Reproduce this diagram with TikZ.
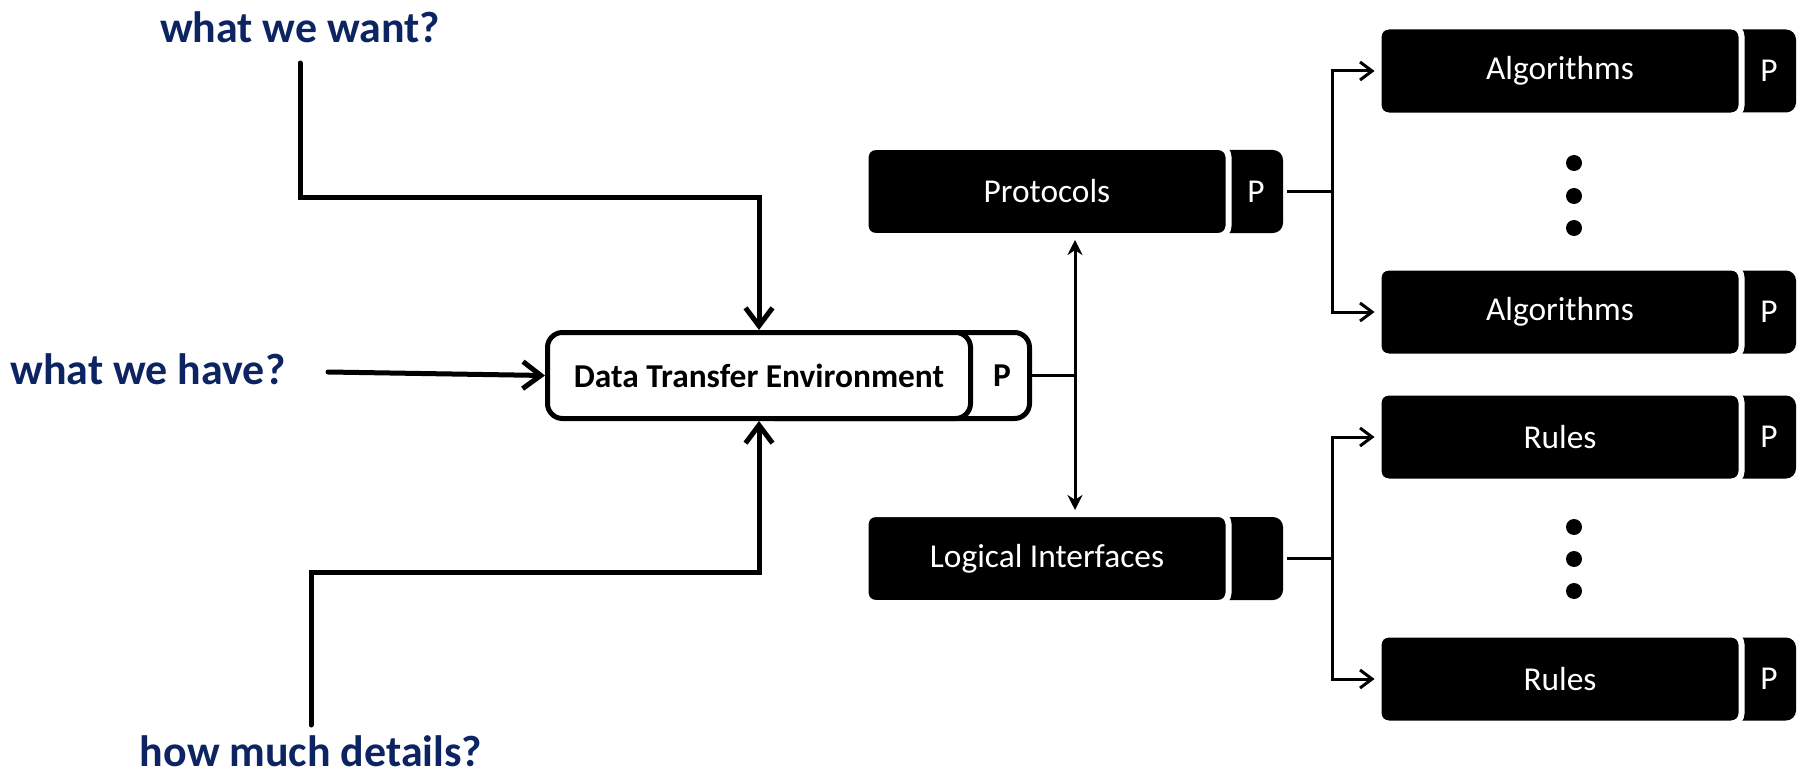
\documentclass[tikz,border=0pt]{standalone}
\usepackage{fontspec}
\setmainfont{Carlito}
\usetikzlibrary{arrows.meta, backgrounds}
\definecolor{qblue}{RGB}{12,36,97}
\tikzset{
  question/.style={
    text=qblue,
    font=\fontsize{25}{29}\selectfont\bfseries,
    inner sep=0pt,
  },
  env box/.style={
    rounded corners=3mm,
    draw,
    fill=white,
    line width=1mm,
    font=\fontsize{19}{22}\selectfont\bfseries,
  },
  dark box/.style={
    rounded corners=2mm,
    draw=white,
    fill=black,
    line width=1.2mm,
    text=white,
    font=\fontsize{19}{22}\selectfont,
    minimum width=72.6mm,
    minimum height=17.8mm,
  },
  tab/.style={
    text=white,
    font=\fontsize{19}{22}\selectfont,
    minimum width=10.8mm,
    minimum height=16.6mm,
    inner sep=0pt,
    outer sep=0pt,
  },
  dot/.style={circle, fill=black, inner sep=0pt, minimum size=3.2mm},
  feed/.style={line width=1mm, line cap=round, -{Straight Barb[length=3.6mm, width=5.4mm]}},
  link/.style={line width=0.6mm},
}

\begin{document}
\begin{tikzpicture}[x=0.2mm, y=-0.2mm]
        \useasboundingbox (0,0) rectangle (1803,779);

        % questions
        \node[question, anchor=base] (want)    at (300,43)  {what we want?};
        \node[question, anchor=base] (have)    at (148,384) {what we have?};
        \node[question, anchor=base] (details) at (311,766) {how much details?};

        % environment
        \node[env box, minimum width=84.6mm, minimum height=17.2mm] (dte) at (759,375.5) {Data Transfer Environment};
        \node[inner sep=0pt, outer sep=0pt, minimum width=11mm, minimum height=17.2mm, font=\fontsize{19}{22}\selectfont\bfseries] (dteP) at (1002,375.5) {P};

        % black boxes
        \node[dark box] (prot)  at (1047,191.5) {Protocols};
        \node[tab]      (protP) at (1256,191.5) {P};
        \node[dark box] (logic)  at (1047,558.5) {Logical Interfaces};
        \node[tab]      (logicP) at (1256,558.5) {};

        \node[dark box] (alg1)  at (1560,71)  {Algorithms};
        \node[tab]      (alg1P) at (1769,71)  {P};
        \node[dark box] (alg2)  at (1560,312) {Algorithms};
        \node[tab]      (alg2P) at (1769,312) {P};
        \node[dark box] (rule1)  at (1560,437) {Rules};
        \node[tab]      (rule1P) at (1769,437) {P};
        \node[dark box] (rule2)  at (1560,679) {Rules};
        \node[tab]      (rule2P) at (1769,679) {P};

        \begin{scope}[on background layer]
          \draw[line width=1mm, fill=white, rounded corners=3mm] (dte.center |- dteP.north) rectangle (dteP.south east);
          \fill[rounded corners=2mm] (prot.center |- protP.north) rectangle (protP.south east);
          \fill[rounded corners=2mm] (logic.center |- logicP.north) rectangle (logicP.south east);
          \fill[rounded corners=2mm] (alg1.center |- alg1P.north) rectangle (alg1P.south east);
          \fill[rounded corners=2mm] (alg2.center |- alg2P.north) rectangle (alg2P.south east);
          \fill[rounded corners=2mm] (rule1.center |- rule1P.north) rectangle (rule1P.south east);
          \fill[rounded corners=2mm] (rule2.center |- rule2P.north) rectangle (rule2P.south east);
        \end{scope}

        % dots
        \node[dot] (adot1) at (1574,163) {};
        \node[dot] (adot2) at (1574,196) {};
        \node[dot] (adot3) at (1574,228) {};
        \node[dot] (rdot1) at (1574,527) {};
        \node[dot] (rdot2) at (1574,559) {};
        \node[dot] (rdot3) at (1574,591) {};

        % inputs
        \coordinate (wantstart) at (300,63);
        \coordinate (havestart) at (328,372);
        \coordinate (detstart)  at (311,725);
        \draw[feed] (wantstart) -- ++(0,134) -| (dte.north);
        \draw[feed] (havestart) -- (dte.west);
        \draw[feed] (detstart) -- ++(0,-153) -| (dte.south);

        % outputs
        \coordinate (split) at (1075,375.5);
        \draw[link] (dteP.east) -- (split);
        \draw[link, {Stealth[length=3mm, width=3mm]}-{Stealth[length=3mm, width=3mm]}, shorten <=0.2mm, shorten >=0.2mm]
          (split |- prot.south) -- (split |- logic.north);

        \draw[link, shorten <=0.8mm] (protP.east) -- ++(49,0) coordinate (pfork);
        \draw[link, -{Straight Barb[length=2.4mm, width=3.6mm]}, shorten >=0.2mm] (pfork) |- (alg1.west);
        \draw[link, -{Straight Barb[length=2.4mm, width=3.6mm]}, shorten >=0.2mm] (pfork) |- (alg2.west);

        \draw[link, shorten <=0.8mm] (logicP.east) -- ++(49,0) coordinate (lfork);
        \draw[link, -{Straight Barb[length=2.4mm, width=3.6mm]}, shorten >=0.2mm] (lfork) |- (rule1.west);
        \draw[link, -{Straight Barb[length=2.4mm, width=3.6mm]}, shorten >=0.2mm] (lfork) |- (rule2.west);
      \end{tikzpicture}
\end{document}
